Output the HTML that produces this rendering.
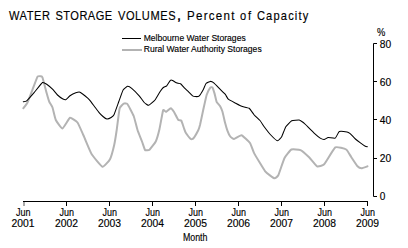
<!DOCTYPE html><html><head><meta charset="utf-8"><style>html,body{margin:0;padding:0;background:#fff;overflow:hidden}svg{display:block}</style></head><body>
<svg width="408" height="248" viewBox="0 0 408 248">
<rect width="408" height="248" fill="#fff"/>
<text transform="translate(9.0,20) scale(0.88,1)" x="0" y="0" font-family="Liberation Sans, sans-serif" font-size="12.6" fill="#000" stroke="#000" stroke-width="0.15" letter-spacing="0.6">WATER</text>
<text transform="translate(55.4,20) scale(0.88,1)" x="0" y="0" font-family="Liberation Sans, sans-serif" font-size="12.6" fill="#000" stroke="#000" stroke-width="0.15" letter-spacing="0.53">STORAGE</text>
<text transform="translate(117.9,20) scale(0.88,1)" x="0" y="0" font-family="Liberation Sans, sans-serif" font-size="12.6" fill="#000" stroke="#000" stroke-width="0.15" letter-spacing="0.68">VOLUMES</text>
<text transform="translate(177.2,20) scale(1.0,1)" x="0" y="0" font-family="Liberation Sans, sans-serif" font-size="12.6" fill="#000" stroke="#000" stroke-width="0.5" letter-spacing="0">,</text>
<text transform="translate(187.0,20) scale(0.92,1)" x="0" y="0" font-family="Liberation Sans, sans-serif" font-size="12.6" fill="#000" stroke="#000" stroke-width="0.15" letter-spacing="1.35">Percent</text>
<text transform="translate(240,20) scale(0.88,1)" x="0" y="0" font-family="Liberation Sans, sans-serif" font-size="12.6" fill="#000" stroke="#000" stroke-width="0.15" letter-spacing="2.23">of</text>
<text transform="translate(256.9,20) scale(0.88,1)" x="0" y="0" font-family="Liberation Sans, sans-serif" font-size="12.6" fill="#000" stroke="#000" stroke-width="0.15" letter-spacing="1.35">Capacity</text>
<line x1="122" y1="38.5" x2="141" y2="38.5" stroke="#000" stroke-width="1"/>
<line x1="122" y1="50" x2="142" y2="50" stroke="#b3b3b3" stroke-width="2"/>
<text x="143.7" y="41.4" font-family="Liberation Sans, sans-serif" font-size="9.5" fill="#000" stroke="#000" stroke-width="0.15" textLength="102" lengthAdjust="spacingAndGlyphs">Melbourne Water Storages</text>
<text x="143.7" y="52.0" font-family="Liberation Sans, sans-serif" font-size="9.5" fill="#000" stroke="#000" stroke-width="0.15" textLength="118" lengthAdjust="spacingAndGlyphs">Rural Water Authority Storages</text>
<path d="M377,43.5 H373.5 V196.5 H377" fill="none" stroke="#000" stroke-width="1"/>
<line x1="373" y1="81.5" x2="377" y2="81.5" stroke="#000" stroke-width="1"/>
<line x1="373" y1="119.5" x2="377" y2="119.5" stroke="#000" stroke-width="1"/>
<line x1="373" y1="158.5" x2="377" y2="158.5" stroke="#000" stroke-width="1"/>
<text x="379.7" y="47.8" font-family="Liberation Sans, sans-serif" font-size="10.6" fill="#000" stroke="#000" stroke-width="0.15" textLength="11.4" lengthAdjust="spacingAndGlyphs">80</text>
<text x="379.7" y="85.8" font-family="Liberation Sans, sans-serif" font-size="10.6" fill="#000" stroke="#000" stroke-width="0.15" textLength="11.4" lengthAdjust="spacingAndGlyphs">60</text>
<text x="379.7" y="123.8" font-family="Liberation Sans, sans-serif" font-size="10.6" fill="#000" stroke="#000" stroke-width="0.15" textLength="11.4" lengthAdjust="spacingAndGlyphs">40</text>
<text x="379.7" y="161.8" font-family="Liberation Sans, sans-serif" font-size="10.6" fill="#000" stroke="#000" stroke-width="0.15" textLength="11.4" lengthAdjust="spacingAndGlyphs">20</text>
<text x="379.7" y="199.8" font-family="Liberation Sans, sans-serif" font-size="10.6" fill="#000" stroke="#000" stroke-width="0.15" textLength="5.6" lengthAdjust="spacingAndGlyphs">0</text>
<text x="377" y="36" font-family="Liberation Sans, sans-serif" font-size="10.6" fill="#000" stroke="#000" stroke-width="0.15" textLength="8.3" lengthAdjust="spacingAndGlyphs">%</text>
<line x1="23" y1="201.5" x2="368" y2="201.5" stroke="#000" stroke-width="1"/>
<line x1="24" y1="202" x2="24" y2="206" stroke="#000" stroke-opacity="0.33" stroke-width="2"/>
<text x="16.0" y="215.7" font-family="Liberation Sans, sans-serif" font-size="10.6" fill="#000" stroke="#000" stroke-width="0.15" textLength="14.5" lengthAdjust="spacingAndGlyphs">Jun</text>
<text x="11.5" y="226.8" font-family="Liberation Sans, sans-serif" font-size="10.6" fill="#000" stroke="#000" stroke-width="0.15" textLength="23" lengthAdjust="spacingAndGlyphs">2001</text>
<line x1="66.5" y1="202" x2="66.5" y2="206" stroke="#000" stroke-width="1"/>
<text x="59.5" y="215.7" font-family="Liberation Sans, sans-serif" font-size="10.6" fill="#000" stroke="#000" stroke-width="0.15" textLength="14.5" lengthAdjust="spacingAndGlyphs">Jun</text>
<text x="55.0" y="226.8" font-family="Liberation Sans, sans-serif" font-size="10.6" fill="#000" stroke="#000" stroke-width="0.15" textLength="23" lengthAdjust="spacingAndGlyphs">2002</text>
<line x1="109.5" y1="202" x2="109.5" y2="206" stroke="#000" stroke-width="1"/>
<text x="102.5" y="215.7" font-family="Liberation Sans, sans-serif" font-size="10.6" fill="#000" stroke="#000" stroke-width="0.15" textLength="14.5" lengthAdjust="spacingAndGlyphs">Jun</text>
<text x="98.0" y="226.8" font-family="Liberation Sans, sans-serif" font-size="10.6" fill="#000" stroke="#000" stroke-width="0.15" textLength="23" lengthAdjust="spacingAndGlyphs">2003</text>
<line x1="152.5" y1="202" x2="152.5" y2="206" stroke="#000" stroke-width="1"/>
<text x="145.5" y="215.7" font-family="Liberation Sans, sans-serif" font-size="10.6" fill="#000" stroke="#000" stroke-width="0.15" textLength="14.5" lengthAdjust="spacingAndGlyphs">Jun</text>
<text x="141.0" y="226.8" font-family="Liberation Sans, sans-serif" font-size="10.6" fill="#000" stroke="#000" stroke-width="0.15" textLength="23" lengthAdjust="spacingAndGlyphs">2004</text>
<line x1="195.5" y1="202" x2="195.5" y2="206" stroke="#000" stroke-width="1"/>
<text x="188.5" y="215.7" font-family="Liberation Sans, sans-serif" font-size="10.6" fill="#000" stroke="#000" stroke-width="0.15" textLength="14.5" lengthAdjust="spacingAndGlyphs">Jun</text>
<text x="184.0" y="226.8" font-family="Liberation Sans, sans-serif" font-size="10.6" fill="#000" stroke="#000" stroke-width="0.15" textLength="23" lengthAdjust="spacingAndGlyphs">2005</text>
<line x1="238.5" y1="202" x2="238.5" y2="206" stroke="#000" stroke-width="1"/>
<text x="231.5" y="215.7" font-family="Liberation Sans, sans-serif" font-size="10.6" fill="#000" stroke="#000" stroke-width="0.15" textLength="14.5" lengthAdjust="spacingAndGlyphs">Jun</text>
<text x="227.0" y="226.8" font-family="Liberation Sans, sans-serif" font-size="10.6" fill="#000" stroke="#000" stroke-width="0.15" textLength="23" lengthAdjust="spacingAndGlyphs">2006</text>
<line x1="281.5" y1="202" x2="281.5" y2="206" stroke="#000" stroke-width="1"/>
<text x="274.5" y="215.7" font-family="Liberation Sans, sans-serif" font-size="10.6" fill="#000" stroke="#000" stroke-width="0.15" textLength="14.5" lengthAdjust="spacingAndGlyphs">Jun</text>
<text x="270.0" y="226.8" font-family="Liberation Sans, sans-serif" font-size="10.6" fill="#000" stroke="#000" stroke-width="0.15" textLength="23" lengthAdjust="spacingAndGlyphs">2007</text>
<line x1="324.5" y1="202" x2="324.5" y2="206" stroke="#000" stroke-width="1"/>
<text x="317.5" y="215.7" font-family="Liberation Sans, sans-serif" font-size="10.6" fill="#000" stroke="#000" stroke-width="0.15" textLength="14.5" lengthAdjust="spacingAndGlyphs">Jun</text>
<text x="313.0" y="226.8" font-family="Liberation Sans, sans-serif" font-size="10.6" fill="#000" stroke="#000" stroke-width="0.15" textLength="23" lengthAdjust="spacingAndGlyphs">2008</text>
<line x1="367.5" y1="202" x2="367.5" y2="206" stroke="#000" stroke-width="1"/>
<text x="360.5" y="215.7" font-family="Liberation Sans, sans-serif" font-size="10.6" fill="#000" stroke="#000" stroke-width="0.15" textLength="14.5" lengthAdjust="spacingAndGlyphs">Jun</text>
<text x="356.0" y="226.8" font-family="Liberation Sans, sans-serif" font-size="10.6" fill="#000" stroke="#000" stroke-width="0.15" textLength="23" lengthAdjust="spacingAndGlyphs">2009</text>
<text x="182.9" y="240.9" font-family="Liberation Sans, sans-serif" font-size="10.6" fill="#000" stroke="#000" stroke-width="0.15" textLength="24.5" lengthAdjust="spacingAndGlyphs">Month</text>
<path d="M23.30,108.30 C23.58,107.91 26.89,103.75 27.50,102.50 C28.11,101.25 31.83,91.32 32.50,89.60 C33.17,87.88 36.95,77.59 37.50,76.70 C38.05,75.81 40.47,76.25 40.80,76.30 C41.13,76.35 42.11,76.37 42.50,77.50 C42.89,78.63 46.25,91.69 46.70,93.30 C47.15,94.91 48.81,100.75 49.20,101.70 C49.59,102.65 52.06,106.28 52.50,107.50 C52.94,108.72 55.13,118.61 55.80,120.00 C56.47,121.39 61.55,128.55 62.50,128.40 C63.45,128.25 69.00,118.19 70.00,117.80 C71.00,117.41 76.61,121.35 77.50,122.50 C78.39,123.65 82.80,133.90 83.30,135.00 C83.80,136.10 84.44,137.72 85.00,139.00 C85.56,140.28 90.53,152.35 91.70,154.20 C92.87,156.05 101.28,166.37 102.50,166.70 C103.72,167.03 109.22,160.65 110.00,159.20 C110.78,157.75 113.75,146.95 114.20,145.00 C114.65,143.05 116.34,132.44 116.70,130.00 C117.06,127.56 119.13,110.16 119.60,108.40 C120.07,106.64 123.28,103.89 123.80,103.60 C124.32,103.31 126.74,103.17 127.40,104.00 C128.06,104.83 133.03,114.27 133.70,116.00 C134.37,117.73 136.95,128.30 137.50,130.00 C138.05,131.70 141.50,140.17 142.00,141.50 C142.50,142.83 144.67,149.42 145.00,150.00 C145.33,150.58 146.70,150.27 147.00,150.25 C147.30,150.23 148.92,150.33 149.50,149.75 C150.08,149.17 155.08,142.88 155.75,141.50 C156.42,140.12 159.01,131.08 159.50,129.00 C159.99,126.92 162.66,111.44 163.10,110.30 C163.54,109.16 165.59,112.04 166.10,111.90 C166.61,111.76 170.26,108.17 170.80,108.20 C171.34,108.23 173.71,111.52 174.20,112.30 C174.69,113.08 177.73,119.34 178.20,119.90 C178.67,120.46 180.92,120.16 181.30,120.70 C181.68,121.24 183.60,127.20 183.90,128.00 C184.20,128.80 185.29,132.02 185.75,132.75 C186.21,133.48 190.25,138.62 190.75,139.00 C191.25,139.38 192.75,139.08 193.25,138.50 C193.75,137.92 197.80,131.15 198.25,130.25 C198.70,129.35 199.67,126.35 200.00,125.00 C200.33,123.65 202.75,112.01 203.20,110.00 C203.65,107.99 206.23,96.29 206.70,94.80 C207.17,93.31 209.92,88.19 210.30,87.70 C210.68,87.21 212.12,87.02 212.40,87.40 C212.68,87.78 214.22,92.44 214.50,93.40 C214.78,94.36 216.23,100.96 216.60,101.80 C216.97,102.64 219.61,105.34 220.00,106.00 C220.39,106.66 222.17,110.60 222.50,111.70 C222.83,112.80 224.67,121.23 225.00,122.50 C225.33,123.77 227.15,129.87 227.50,130.80 C227.85,131.73 229.82,135.95 230.25,136.50 C230.68,137.05 233.25,139.08 234.00,139.00 C234.75,138.92 240.43,134.98 241.50,135.25 C242.57,135.52 249.16,141.81 250.00,143.00 C250.84,144.19 253.09,151.21 254.10,153.10 C255.11,154.99 263.85,169.62 265.20,171.30 C266.55,172.98 273.43,178.03 274.30,178.30 C275.17,178.57 277.63,176.64 278.30,175.30 C278.97,173.96 283.53,159.92 284.40,158.20 C285.27,156.48 290.33,150.04 291.40,149.50 C292.47,148.96 299.32,149.58 300.50,150.10 C301.68,150.62 307.99,156.22 309.10,157.30 C310.21,158.38 316.09,165.83 317.10,166.30 C318.11,166.77 322.99,165.56 324.20,164.30 C325.41,163.04 333.83,148.39 335.30,147.40 C336.77,146.41 345.14,148.86 346.20,149.50 C347.26,150.14 350.45,155.88 351.20,157.00 C351.95,158.12 356.81,165.55 357.50,166.30 C358.19,167.05 360.83,168.30 361.50,168.30 C362.17,168.30 367.10,166.43 367.50,166.30" fill="none" stroke="#b3b3b3" stroke-width="2" stroke-linejoin="round" stroke-linecap="round"/>
<path d="M23.30,101.70 C23.53,101.64 25.98,101.41 26.70,100.80 C27.42,100.19 33.05,93.82 34.10,92.60 C35.15,91.38 41.66,83.06 42.50,82.50 C43.34,81.94 46.03,83.75 46.70,84.20 C47.37,84.65 51.78,88.48 52.50,89.20 C53.22,89.92 56.83,94.37 57.50,95.00 C58.17,95.63 61.95,98.39 62.50,98.70 C63.05,99.01 65.30,99.89 65.80,99.70 C66.30,99.51 69.33,96.26 70.00,95.80 C70.67,95.34 75.13,93.04 75.80,92.80 C76.47,92.56 79.19,91.83 80.00,92.20 C80.81,92.57 87.29,97.69 88.00,98.30 C88.71,98.91 90.13,100.71 90.60,101.30 C91.07,101.89 94.43,106.45 95.00,107.20 C95.57,107.95 98.57,111.98 99.10,112.60 C99.63,113.22 102.48,116.07 103.00,116.50 C103.52,116.93 106.36,118.93 106.90,119.00 C107.44,119.07 110.63,117.79 111.10,117.50 C111.57,117.21 113.48,115.78 114.00,114.70 C114.52,113.62 118.29,102.95 118.90,101.30 C119.51,99.65 122.53,91.00 123.10,90.00 C123.67,89.00 126.93,86.41 127.50,86.30 C128.07,86.19 130.92,87.67 131.70,88.30 C132.48,88.93 138.37,94.85 139.20,95.80 C140.03,96.75 143.57,101.87 144.20,102.50 C144.83,103.13 147.98,105.47 148.70,105.30 C149.42,105.13 154.25,100.91 155.00,100.00 C155.75,99.09 159.45,92.53 160.00,91.70 C160.55,90.87 162.85,87.89 163.30,87.50 C163.75,87.11 166.23,86.28 166.70,85.80 C167.17,85.32 170.01,80.65 170.40,80.30 C170.79,79.95 172.20,80.33 172.60,80.50 C173.00,80.67 175.87,82.58 176.40,82.80 C176.93,83.02 180.09,83.47 180.60,83.80 C181.11,84.13 183.58,87.17 184.10,87.70 C184.62,88.23 187.83,91.15 188.40,91.70 C188.97,92.25 192.13,95.57 192.60,95.90 C193.07,96.23 194.97,96.58 195.40,96.60 C195.83,96.62 198.48,96.65 199.00,96.20 C199.52,95.75 202.73,90.65 203.20,89.80 C203.67,88.95 205.53,84.06 206.00,83.50 C206.47,82.94 209.78,81.45 210.30,81.40 C210.82,81.35 213.15,82.29 213.80,82.80 C214.45,83.31 219.24,88.34 220.00,89.10 C220.76,89.86 224.65,93.53 225.20,94.20 C225.75,94.87 227.59,98.59 228.30,99.20 C229.01,99.81 234.91,102.83 235.80,103.30 C236.69,103.77 240.81,105.97 241.70,106.30 C242.59,106.63 248.37,107.72 249.20,108.30 C250.03,108.88 253.48,114.19 254.20,115.00 C254.92,115.81 259.33,119.72 260.00,120.50 C260.67,121.28 263.48,125.73 264.20,126.70 C264.92,127.67 269.91,134.06 270.80,135.00 C271.69,135.94 276.77,140.69 277.50,140.80 C278.23,140.91 281.15,137.64 281.70,136.70 C282.25,135.76 285.13,127.76 285.80,126.70 C286.47,125.64 290.81,121.25 291.70,120.80 C292.59,120.35 298.43,119.89 299.20,120.00 C299.97,120.11 302.85,122.17 303.30,122.50 C303.75,122.83 305.28,124.29 306.00,125.00 C306.72,125.71 313.15,132.23 314.10,133.10 C315.05,133.97 319.53,137.67 320.20,138.10 C320.87,138.53 323.67,139.54 324.20,139.50 C324.73,139.46 327.46,137.59 328.20,137.50 C328.94,137.41 334.56,138.50 335.30,138.10 C336.04,137.70 338.52,131.91 339.30,131.50 C340.08,131.09 346.30,131.78 347.00,131.90 C347.70,132.02 349.24,132.83 349.80,133.30 C350.36,133.77 354.69,138.36 355.40,139.00 C356.11,139.64 359.74,142.41 360.40,142.90 C361.06,143.39 364.83,146.05 365.30,146.30 C365.77,146.55 367.26,146.67 367.40,146.70" fill="none" stroke="#000" stroke-width="1.05" stroke-linejoin="round" stroke-linecap="round"/>
</svg></body></html>
